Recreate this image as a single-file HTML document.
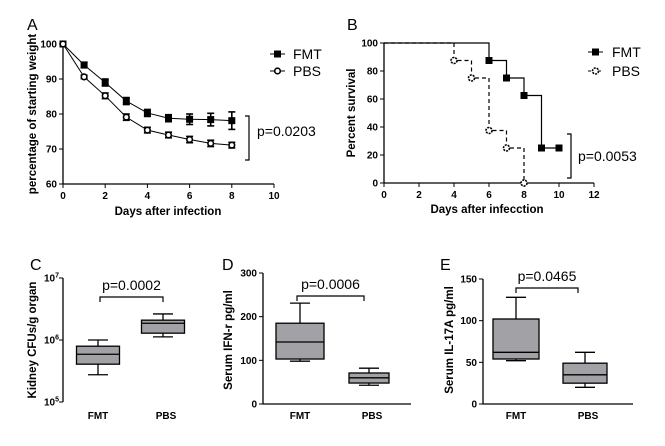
<!DOCTYPE html>
<html><head><meta charset="utf-8"><style>
html,body{margin:0;padding:0;background:#fff}
svg{display:block;font-family:"Liberation Sans",Arial,sans-serif}
.tk{font-size:10px;font-weight:bold;fill:#000}
.ti{font-size:11.5px;font-weight:bold;fill:#000}
.pv{font-size:14px;fill:#000}
.pl{font-size:16px;fill:#000}
</style></head><body>
<svg id="fig" width="665" height="446" viewBox="0 0 665 446" xmlns="http://www.w3.org/2000/svg"></svg>
<script>
// Panel A data
const aDays=[0,1,2,3,4,5,6,7,8];
const aFMT=[100,94,89,83.7,80.3,78.8,78.5,78.4,78.1];
const aFMTerr=[0,0.8,1,1,1,1,1.5,1.8,2.5];
const aPBS=[100,90.6,85.2,79.1,75.4,74,72.7,71.6,71.1];
const aPBSerr=[0,0.5,0.8,0.9,0.8,0.8,0.9,0.9,0.8];
const aXTicks=[0,2,4,6,8,10];
const aYTicks=[60,70,80,90,100];
// Panel B data
const bFMTx=[0,6,7,8,9,10];
const bFMTy=[100,87.5,75,62.5,25,25];
const bFMTmarks=[6,7,8,9,10];
const bPBSx=[0,4,5,6,7,8];
const bPBSy=[100,87.5,75,37.5,25,0];
const bPBSmarks=[4,5,6,7,8];
const bXTicks=[0,2,4,6,8,10,12];
const bYTicks=[0,20,40,60,80,100];
// Panel C (log10 values): [low, q1, median, q3, high]
const cGroups=["FMT","PBS"];
const cFMT=[5.44,5.61,5.77,5.90,6.0];
const cPBS=[6.05,6.11,6.27,6.32,6.42];
const cYTicks=[5,6,7];
// Panel D
const dFMT=[98,103,142,185,231];
const dPBS=[43,48,60,71,82];
const dYTicks=[0,100,200,300];
// Panel E
const eFMT=[52,54,62,102,128];
const ePBS=[20,25,35,49,62];
const eYTicks=[0,50,100,150];

const svg=document.getElementById('fig');
const NS='http://www.w3.org/2000/svg';
function mk(tag,at,parent){const e=document.createElementNS(NS,tag);for(const k in at)e.setAttribute(k,at[k]);(parent||svg).appendChild(e);return e;}
function txt(s,x,y,cls,anchor,parent){const t=mk('text',{x:x,y:y,class:cls,'text-anchor':anchor||'middle'},parent);t.textContent=s;return t;}
function line(x1,y1,x2,y2,parent,extra){return mk('line',Object.assign({x1,y1,x2,y2,stroke:'#000','stroke-width':1},extra||{}),parent);}
function lin(d0,d1,r0,r1){return v=>r0+(v-d0)*(r1-r0)/(d1-d0);}

// ---------- Panel A ----------
{
const g=mk('g',{});


const x=lin(0,10,63,274), y=lin(60,100,184,44);
let t=txt('A',27,30,'pl','start',g);

line(63,44,63,184,g,{'stroke-width':1.3});line(63,184,274,184,g,{'stroke-width':1.3});
aYTicks.forEach(v=>{line(59,y(v),63,y(v),g);t=txt(v,57,y(v)+3.5,'tk','end',g);});
aXTicks.forEach(v=>{line(x(v),184,x(v),188,g);t=txt(v,x(v),199,'tk','middle',g);});
t=txt('Days after infection',168,215,'ti','middle',g);

t=txt('percentage of starting weight',0,0,'ti','middle',g);t.setAttribute('transform','translate(36,114) rotate(-90)');

const pf=aDays.map((d,i)=>x(d)+','+y(aFMT[i])).join(' ');
const pp=aDays.map((d,i)=>x(d)+','+y(aPBS[i])).join(' ');
let p=mk('polyline',{points:pf,fill:'none',stroke:'#000','stroke-width':1},g);

p=mk('polyline',{points:pp,fill:'none',stroke:'#000','stroke-width':1},g);

aDays.forEach((d,i)=>{
 [[aFMT,aFMTerr],[aPBS,aPBSerr]].forEach(([s,e])=>{ if(e[i]>0){line(x(d),y(s[i]+e[i]),x(d),y(s[i]-e[i]),g,{'stroke-width':1.6});line(x(d)-3.5,y(s[i]+e[i]),x(d)+3.5,y(s[i]+e[i]),g,{'stroke-width':1.6});line(x(d)-3.5,y(s[i]-e[i]),x(d)+3.5,y(s[i]-e[i]),g,{'stroke-width':1.6});}});
 let m=mk('rect',{x:x(d)-3.5,y:y(aFMT[i])-3.5,width:7,height:7,fill:'#000'},g);
 
 m=mk('circle',{cx:x(d),cy:y(aPBS[i]),r:2.8,fill:'#fff',stroke:'#000','stroke-width':1.6},g);
 
});
line(270,54,285,54,g);mk('rect',{x:274,y:50.5,width:7,height:7,fill:'#000'},g);
t=txt('FMT',293,59,'pv','start',g);
line(270,71,285,71,g);mk('circle',{cx:277.5,cy:71,r:2.8,fill:'#fff',stroke:'#000','stroke-width':1.6},g);
t=txt('PBS',293,76,'pv','start',g);
mk('polyline',{points:'245,116 249,116 249,160 245,160',fill:'none',stroke:'#000','stroke-width':1.2},g);
t=txt('p=0.0203',257,136,'pv','start',g);
}

// ---------- Panel B ----------
{
const g=mk('g',{});


const x=lin(0,12,384,594), y=lin(0,100,183,43);
let t=txt('B',347,30,'pl','start',g);

line(384,43,384,183,g,{'stroke-width':1.3});line(384,183,594,183,g,{'stroke-width':1.3});
bYTicks.forEach(v=>{line(380,y(v),384,y(v),g);t=txt(v,378,y(v)+3.5,'tk','end',g);});
bXTicks.forEach(v=>{line(x(v),183,x(v),187,g);t=txt(v,x(v),198,'tk','middle',g);});
t=txt('Days after infecction',487,213,'ti','middle',g);

t=txt('Percent survival',0,0,'ti','middle',g);t.setAttribute('transform','translate(355,113) rotate(-90)');

function steps(xs,ys){let d='M'+x(xs[0])+','+y(ys[0]);for(let i=1;i<xs.length;i++){d+=' H'+x(xs[i])+' V'+y(ys[i]);}return d;}
let p=mk('path',{d:steps(bPBSx,bPBSy),fill:'none',stroke:'#000','stroke-width':1.2,'stroke-dasharray':'4,3'},g);

p=mk('path',{d:steps(bFMTx,bFMTy),fill:'none',stroke:'#000','stroke-width':1.2},g);

bFMTmarks.forEach(d=>{const i=bFMTx.indexOf(d);const m=mk('rect',{x:x(d)-3.5,y:y(bFMTy[i])-3.5,width:7,height:7,fill:'#000'},g);
 });
bPBSmarks.forEach(d=>{const i=bPBSx.indexOf(d);const m=mk('circle',{cx:x(d),cy:y(bPBSy[i]),r:3,fill:'#fff',stroke:'#000','stroke-width':1.6,'stroke-dasharray':'2,1'},g);
 });
line(588,52,603,52,g);mk('rect',{x:592,y:48.5,width:7,height:7,fill:'#000'},g);
t=txt('FMT',612,57,'pv','start',g);
line(588,71,603,71,g,{'stroke-dasharray':'3,2'});mk('circle',{cx:595.5,cy:71,r:3,fill:'#fff',stroke:'#000','stroke-width':1.6,'stroke-dasharray':'2,1'},g);
t=txt('PBS',612,76,'pv','start',g);
mk('polyline',{points:'567,134 571,134 571,178 567,178',fill:'none',stroke:'#000','stroke-width':1.2},g);
t=txt('p=0.0053',578,161,'pv','start',g);
}

// ---------- Box panels ----------
function boxPanel(o){
 const g=mk('g',{});
 
 
 const y=lin(o.d0,o.d1,o.yb,o.yt);
 let t=txt(o.letter,o.lx,270,'pl','start',g);
 
 line(o.ax,o.yt,o.ax,o.yb,g,{'stroke-width':1.3});
 if(o.xend)line(o.ax,o.yb,o.xend,o.yb,g,{'stroke-width':1.3});
 o.ticks.forEach((v,i)=>{line(o.ax-4,y(v),o.ax,y(v),g);
  const tt=mk('text',{x:o.ax-6,y:y(v)+3.5,class:'tk','text-anchor':'end'},g);
  
  if(o.log){tt.textContent='10';const s=mk('tspan',{dy:-4,'font-size':'7'},tt);s.textContent=String(v);tt.setAttribute('x',o.ax-4);tt.setAttribute('font-weight','normal');}
  else tt.textContent=v;});
 t=txt(o.title,0,0,'ti','middle',g);t.setAttribute('transform','translate('+o.tx+',340) rotate(-90)');
 
 [o.a,o.b].forEach((s,k)=>{
  const cx=o.cx[k],w=o.w[k];
  line(cx,y(s[0]),cx,y(s[4]),g,{'stroke-width':1.3});
  line(cx-10,y(s[0]),cx+10,y(s[0]),g,{'stroke-width':1.3});
  line(cx-10,y(s[4]),cx+10,y(s[4]),g,{'stroke-width':1.3});
  const r=mk('rect',{x:cx-w/2,y:y(s[3]),width:w,height:y(s[1])-y(s[3]),fill:'#a2a2a6',stroke:'#000','stroke-width':1.3},g);
  
  line(cx-w/2,y(s[2]),cx+w/2,y(s[2]),g,{'stroke-width':1.3});
  const lt=txt(cGroups[k],cx+(k?3:0),419,'tk','middle',g);
  
 });
 mk('polyline',{points:o.bx0+','+(o.by+5)+' '+o.bx0+','+o.by+' '+o.bx1+','+o.by+' '+o.bx1+','+(o.by+5),fill:'none',stroke:'#000','stroke-width':1.2},g);
 t=txt(o.p,(o.bx0+o.bx1)/2,o.by-7,'pv','middle',g);
 
}
boxPanel({name:'panel-c-kidney-cfu',letter:'C',lx:30,ax:63,yt:278,yb:402,d0:5,d1:7,log:true,ticks:cYTicks,
 title:'Kidney CFUs/g organ',tx:36,a:cFMT,b:cPBS,cx:[98,163],w:[43,43],bx0:100,bx1:163,by:297,p:'p=0.0002'});
boxPanel({name:'panel-d-ifn',letter:'D',lx:222,ax:263,xend:411,yt:273,yb:404,d0:0,d1:300,ticks:dYTicks,
 title:'Serum IFN-r pg/ml',tx:232,a:dFMT,b:dPBS,cx:[300,369],w:[48,40],bx0:297,bx1:364,by:296,p:'p=0.0006'});
boxPanel({name:'panel-e-il17a',letter:'E',lx:440,ax:483,xend:633,yt:279,yb:404,d0:0,d1:150,ticks:eYTicks,
 title:'Serum IL-17A pg/ml',tx:453,a:eFMT,b:ePBS,cx:[516,585],w:[46,44],bx0:516,bx1:578,by:288,p:'p=0.0465'});
</script>
</body></html>
